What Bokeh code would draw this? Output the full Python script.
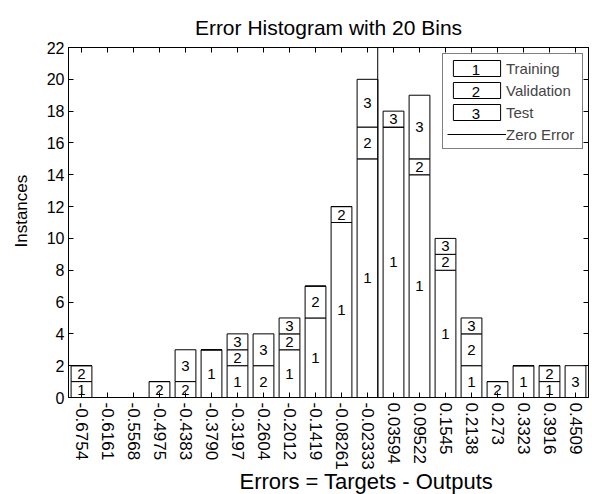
from bokeh.plotting import figure
from bokeh.models import (ColumnDataSource, FixedTicker, LinearAxis, Legend, LegendItem,
                          Label, Range1d, CustomJSTickFormatter, Title)
from bokeh.embed import file_html
from bokeh.resources import INLINE
from bokeh.core.properties import value

# ---- data ----
tick_labels = ["-0.6754", "-0.6161", "-0.5568", "-0.4975", "-0.4383", "-0.3790",
               "-0.3197", "-0.2604", "-0.2012", "-0.1419", "-0.08261", "-0.02333",
               "0.03594", "0.09522", "0.1545", "0.2138", "0.273", "0.3323",
               "0.3916", "0.4509"]
training   = [1, 0, 0, 0, 0, 3, 2, 0, 3, 5, 11, 15, 17, 14, 8, 2, 0, 2, 1, 0]
validation = [1, 0, 0, 1, 1, 0, 1, 2, 1, 2, 1, 2, 0, 1, 1, 2, 1, 0, 1, 0]
test       = [0, 0, 0, 0, 2, 0, 1, 2, 1, 0, 0, 3, 1, 4, 1, 1, 0, 0, 0, 2]
series_names = ["Training", "Validation", "Test"]
series_codes = ["1", "2", "3"]
y_ticks = list(range(0, 23, 2))
zero_error = 0.0

FONT = "Liberation Sans"

n = len(tick_labels)
xs = list(range(n))
centers = [float(t) for t in tick_labels]
bin_w = (centers[-1] - centers[0]) / (n - 1)
zero_pos = (zero_error - centers[0]) / bin_w

src = ColumnDataSource(dict(x=xs, training=training, validation=validation, test=test))

W, H = 592, 494
BL, BR, BT, BB = 67, 4, 47, 97
p = figure(width=W, height=H, output_backend="svg", toolbar_location=None,
           x_range=Range1d(-0.5, n - 0.5), y_range=Range1d(y_ticks[0], y_ticks[-1]),
           min_border_left=BL, min_border_right=BR, min_border_top=BT, min_border_bottom=BB)
p.title.text = "Error Histogram with 20 Bins"
p.title.text_font = FONT
p.title.text_font_size = "21px"
p.title.text_font_style = "normal"
p.title.align = "center"
p.title.text_color = "black"
p.title.standoff = 18
p.xgrid.visible = False
p.ygrid.visible = False
p.outline_line_color = "black"
p.background_fill_color = "white"

rs = p.vbar_stack(["training", "validation", "test"], x="x", width=0.8, source=src,
                  fill_color="white", line_color="black", line_width=1)

# segment labels
lx, ly, lt = [], [], []
bottoms = [0] * n
for code, vals in zip(series_codes, [training, validation, test]):
    for i, v in enumerate(vals):
        if v > 0:
            lx.append(xs[i]); ly.append(bottoms[i] + v / 2); lt.append(code)
        bottoms[i] += v
p.text(x=lx, y=ly, text=lt, text_align="center", text_baseline="middle",
       text_font=value(FONT), text_font_size="15px", text_color="black")

zr = p.line(x=[zero_pos, zero_pos], y=[y_ticks[0], y_ticks[-1]], line_color="black", line_width=1)

# axes
xt = FixedTicker(ticks=xs)
yt = FixedTicker(ticks=y_ticks)
p.xaxis.ticker = xt
p.xaxis.major_label_overrides = {i: t for i, t in enumerate(tick_labels)}
p.xaxis.major_label_orientation = "vertical"
p.xaxis.major_label_text_font_size = "17px"
p.xaxis.major_label_standoff = 5
p.yaxis.ticker = yt
p.yaxis.major_label_text_font_size = "16px"
p.yaxis.major_label_standoff = 4
for ax in (p.xaxis[0], p.yaxis[0]):
    ax.major_label_text_font = FONT
    ax.major_label_text_color = "black"
    ax.major_tick_in = 5
    ax.major_tick_out = 0
    ax.minor_tick_line_color = None
    ax.axis_line_color = "black"
    ax.major_tick_line_color = "black"

blank = CustomJSTickFormatter(code="return ''")
top = LinearAxis(ticker=xt, formatter=blank, major_label_text_font_size="1px", major_label_standoff=0,
                 major_tick_in=5, major_tick_out=0, minor_tick_line_color=None,
                 axis_line_color="black")
right = LinearAxis(ticker=yt, formatter=blank, major_label_text_font_size="1px", major_label_standoff=0,
                   major_tick_in=5, major_tick_out=0, minor_tick_line_color=None,
                   axis_line_color="black")
p.add_layout(top, "above")
p.add_layout(right, "right")

# axis titles as panel titles (placed off-centre like the reference)
p.add_layout(Title(text="Errors = Targets - Outputs", align="left", offset=171, standoff=-10,
                   vertical_align="middle",
                   text_font=FONT, text_font_size="22px", text_font_style="normal",
                   text_color="black"), "below")
p.add_layout(Title(text="Instances", align="left", offset=150, standoff=22,
                   vertical_align="top",
                   text_font=FONT, text_font_size="17px", text_font_style="normal",
                   text_color="black"), "left")

# legend (proxy renderers with transparent fill, so the code numbers show through)
nan = float("nan")
proxies = [p.vbar(x=[nan], top=[nan], width=0.8, fill_alpha=0, line_color="black")
           for _ in series_names]
frame_w = W - BL - BR
frame_h = H - BT - BB
pad, gw, gh, sp = 4, 59, 20, 2
leg_h = 2 * pad + 4 * gh + 3 * sp
leg_x = frame_w - 147
leg_top = frame_h - 8
items = [LegendItem(label=nm, renderers=[r]) for nm, r in zip(series_names, proxies)]
items.append(LegendItem(label="Zero Error", renderers=[zr]))
legend = Legend(items=items, location=(leg_x, leg_top - leg_h), glyph_width=gw, glyph_height=gh,
                label_height=gh, label_width=72, spacing=sp, padding=pad, margin=0, label_standoff=0,
                border_line_color="black", border_line_width=1,
                label_text_font=FONT, label_text_font_size="15px",
                background_fill_alpha=0)
p.add_layout(legend)
for k, code in enumerate(series_codes):
    p.add_layout(Label(x=leg_x + pad + gw / 2, y=leg_top - pad - k * (gh + sp) - gh / 2,
                       x_units="screen", y_units="screen", text=code,
                       text_align="center", text_baseline="middle",
                       text_font=FONT, text_font_size="15px", text_color="black"))

open("out.html", "w").write(file_html(p, INLINE))
